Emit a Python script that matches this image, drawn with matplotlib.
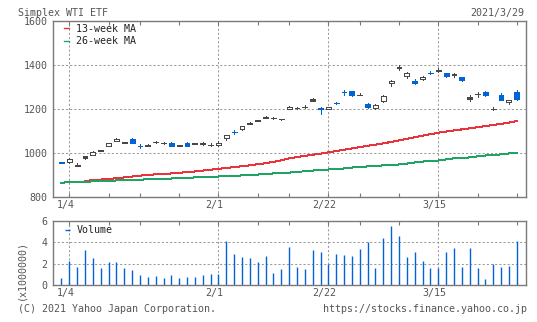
import matplotlib
matplotlib.use('Agg')
import matplotlib.pyplot as plt
from matplotlib.transforms import ScaledTranslation
import numpy as np
import pandas as pd

plt.rcParams['font.family'] = ['DejaVu Sans Mono']
plt.rcParams['font.size'] = 7.2

# ---------------- data ----------------
dates = ['2020-12-30',
         '2021-01-04', '2021-01-05', '2021-01-06', '2021-01-07', '2021-01-08',
         '2021-01-12', '2021-01-13', '2021-01-14', '2021-01-15',
         '2021-01-18', '2021-01-19', '2021-01-20', '2021-01-21', '2021-01-22',
         '2021-01-25', '2021-01-26', '2021-01-27', '2021-01-28', '2021-01-29',
         '2021-02-01', '2021-02-02', '2021-02-03', '2021-02-04', '2021-02-05',
         '2021-02-08', '2021-02-09', '2021-02-10', '2021-02-12',
         '2021-02-15', '2021-02-16', '2021-02-17', '2021-02-18', '2021-02-19',
         '2021-02-22', '2021-02-24', '2021-02-25', '2021-02-26',
         '2021-03-01', '2021-03-02', '2021-03-03', '2021-03-04', '2021-03-05',
         '2021-03-08', '2021-03-09', '2021-03-10', '2021-03-11', '2021-03-12',
         '2021-03-15', '2021-03-16', '2021-03-17', '2021-03-18', '2021-03-19',
         '2021-03-22', '2021-03-23', '2021-03-24', '2021-03-25', '2021-03-26',
         '2021-03-29']

opens  = [955, 958, 946, 985, 991, 1013, 1031, 1053, 1048, 1065,
          1033, 1038, 1051, 1046, 1046, 1035, 1047, 1046, 1043, 1037,
          1034, 1066, 1096, 1110, 1138, 1151, 1165, 1161, 1156, 1200,
          1206, 1211, 1244, 1204, 1200, 1229, 1279, 1283, 1266, 1224,
          1203, 1235, 1317, 1392, 1350, 1329, 1335, 1366, 1379, 1365,
          1360, 1347, 1253, 1269, 1279, 1202, 1264, 1230, 1277]
highs  = [960, 975, 953, 986, 1007, 1014, 1046, 1066, 1051, 1066,
          1040, 1042, 1054, 1048, 1048, 1037, 1048, 1047, 1049, 1043,
          1052, 1082, 1102, 1123, 1139, 1152, 1166, 1162, 1156, 1215,
          1208, 1216, 1251, 1210, 1211, 1234, 1286, 1284, 1273, 1229,
          1225, 1266, 1330, 1401, 1370, 1335, 1349, 1372, 1385, 1366,
          1365, 1348, 1265, 1279, 1280, 1208, 1271, 1243, 1287]
lows   = [952, 955, 941, 972, 990, 1008, 1030, 1052, 1043, 1043,
          1024, 1031, 1047, 1041, 1029, 1031, 1029, 1039, 1035, 1029,
          1032, 1060, 1087, 1106, 1130, 1143, 1157, 1153, 1149, 1199,
          1202, 1203, 1236, 1175, 1199, 1221, 1266, 1258, 1263, 1206,
          1202, 1234, 1307, 1380, 1342, 1312, 1334, 1358, 1368, 1347,
          1348, 1329, 1238, 1257, 1261, 1195, 1242, 1224, 1243]
closes = [956, 972, 942, 977, 1005, 1009, 1044, 1064, 1045, 1047,
          1031, 1033, 1049, 1043, 1031, 1032, 1031, 1040, 1041, 1035,
          1046, 1081, 1094, 1122, 1131, 1144, 1158, 1158, 1153, 1211,
          1204, 1209, 1237, 1202, 1210, 1227, 1277, 1264, 1264, 1210,
          1220, 1261, 1329, 1385, 1362, 1317, 1347, 1364, 1372, 1349,
          1353, 1330, 1244, 1267, 1262, 1200, 1243, 1242, 1244]
# candle style: h = hollow, d = dark filled, b = blue filled
styles = ['b', 'h', 'd', 'd', 'h', 'd', 'h', 'h', 'd', 'b',
          'b', 'd', 'd', 'd', 'b', 'd', 'b', 'd', 'd', 'd',
          'h', 'h', 'b', 'h', 'd', 'd', 'd', 'd', 'd', 'h',
          'd', 'd', 'd', 'b', 'h', 'b', 'b', 'b', 'd', 'b',
          'h', 'h', 'h', 'd', 'h', 'b', 'h', 'b', 'd', 'b',
          'd', 'b', 'd', 'd', 'b', 'd', 'b', 'h', 'b']

ma13 = [np.nan, np.nan, np.nan, 872, 875, 878, 881, 884, 888, 892,
        896, 899, 902, 904, 906, 909, 912, 915, 919, 923,
        927, 931, 935, 939, 943, 948, 953, 959, 966, 975,
        981, 986, 991, 996, 1002, 1008, 1014, 1020, 1026, 1032,
        1037, 1043, 1050, 1057, 1064, 1071, 1078, 1085, 1092, 1097,
        1102, 1107, 1112, 1117, 1122, 1127, 1132, 1138, 1145]
ma26 = [864, 866, 867, 868, 870, 871, 873, 874, 875, 876,
        878, 879, 880, 882, 883, 885, 886, 888, 889, 890,
        892, 894, 895, 897, 899, 901, 903, 906, 908, 910,
        913, 916, 919, 922, 924, 926, 929, 933, 935, 938,
        940, 943, 945, 947, 951, 956, 960, 963, 965, 970,
        975, 977, 979, 984, 988, 990, 993, 997, 1000]

volume = [0.63, 2.24, 1.67, 3.28, 2.52, 1.58, 2.15, 2.15, 1.58, 1.39,
          0.91, 0.73, 0.82, 0.63, 0.91, 0.63, 0.73, 0.73, 0.91, 1.01,
          1.01, 4.13, 2.90, 2.62, 2.52, 2.15, 2.71, 1.10, 1.48, 3.56,
          1.67, 1.48, 3.28, 3.09, 1.96, 2.90, 2.81, 2.71, 3.38, 4.04,
          1.58, 4.42, 5.55, 4.61, 2.62, 3.09, 2.24, 1.58, 1.58, 3.09,
          3.47, 1.67, 3.47, 1.58, 0.54, 1.96, 1.67, 1.77, 4.13]

label_dates = ['1/4', '2/1', '2/22', '3/15']
price_ticks = [800, 1000, 1200, 1400, 1600]
vol_ticks = [0, 2, 4, 6]

# ---------------- style ----------------
DARK = '#484848'
BLUE = '#0064d8'
RED = '#e8333c'
GREEN = '#1fa463'
TXT = '#555555'
FRAME = '#7a7a7a'
GRID = '#9a9a9a'
PX = 0.72  # one pixel in points at 100 dpi

W, H = 537, 322
fig = plt.figure(figsize=(W / 100, H / 100), dpi=100)
fig.patch.set_facecolor('white')

L_, R_ = 53.3, 525.7
ax = fig.add_axes([L_ / W, 1 - 196.7 / H, (R_ - L_) / W, (196.7 - 21.3) / H])
axv = fig.add_axes([L_ / W, 1 - 285.0 / H, (R_ - L_) / W, (285.0 - 221.0) / H])

dt = pd.to_datetime(dates)
n = len(dt)
x = np.arange(n)
short = [f'{d.month}/{d.day}' for d in dt]
iso = dt.isocalendar()
weekkey = (iso['year'].astype(int) * 100 + iso['week'].astype(int)).to_numpy()
week_ticks = [i for i in range(1, n) if weekkey[i] != weekkey[i - 1]]
label_pos = [short.index(s) for s in label_dates]

O = np.array(opens, float)
C = np.array(closes, float)
Hh = np.array(highs, float)
Ll = np.array(lows, float)
face_map = {'h': 'white', 'd': DARK, 'b': BLUE}
edge_map = {'h': DARK, 'd': DARK, 'b': BLUE}
faces = [face_map[s] for s in styles]
edges = [edge_map[s] for s in styles]
body_lo = np.minimum(O, C)
body_h = np.maximum(np.abs(C - O), 0.5)

ax.vlines(x, Ll, Hh, colors=edges, linewidth=PX, zorder=3, antialiased=False)
bars = ax.bar(x, body_h, bottom=body_lo, width=0.62, color=faces, edgecolor=edges,
              linewidth=PX, zorder=4, antialiased=False)
for b in bars:
    b.set_joinstyle('miter')

l13, = ax.plot(x, ma13, color=RED, lw=PX, zorder=2, antialiased=False, label='13-week MA')
l26, = ax.plot(x, ma26, color=GREEN, lw=PX, zorder=2, antialiased=False, label='26-week MA')

vl = axv.vlines(x, 0, volume, colors=BLUE, linewidth=1.0, zorder=3,
                antialiased=True, label='Volume')

xlim = (-1.04, 59.14)
for a in (ax, axv):
    a.set_xlim(*xlim)
    a.set_xticks(label_pos)
    a.set_xticks(week_ticks, minor=True)
    a.set_xticklabels(label_dates)
    a.tick_params(axis='x', which='both', direction='in', top=True, bottom=True,
                  length=3.0, width=0.8, color=FRAME, labelcolor=TXT, pad=2.5)
    a.tick_params(axis='y', which='both', length=0, labelcolor=TXT, pad=4)
    a.grid(True, which='major', linestyle=(0, (2, 2)), color=GRID, lw=0.75)
    a.set_axisbelow(True)
    for sp in a.spines.values():
        sp.set_color(FRAME)
        sp.set_linewidth(1.0)
        sp.set_zorder(6)

ax.set_ylim(800, 1600)
ax.set_yticks(price_ticks)
ax.set_yticklabels([str(v) for v in price_ticks])
axv.set_ylim(0, 6)
axv.set_yticks(vol_ticks)
axv.set_yticklabels([str(v) for v in vol_ticks])

off = ScaledTranslation(-4 / 100, 0, fig.dpi_scale_trans)
for a in (ax, axv):
    for lab in a.get_xticklabels():
        lab.set_transform(lab.get_transform() + off)

leg = ax.legend(handles=[l13, l26], loc='upper left', bbox_to_anchor=(0.022, 0.985),
                frameon=False, handlelength=0.5, handletextpad=0.7,
                labelspacing=0.25, borderpad=0, borderaxespad=0)
for t in leg.get_texts():
    t.set_color('#222222')
for h in leg.legend_handles:
    h.set_linewidth(1.0)
legv = axv.legend(handles=[vl], loc='upper left', bbox_to_anchor=(0.024, 0.93),
                  frameon=False, handlelength=0.5, handletextpad=0.7,
                  borderpad=0, borderaxespad=0)
for t in legv.get_texts():
    t.set_color('#222222')
for h in legv.legend_handles:
    h.set_linewidth(1.0)

fig.text(18.3 / W, 1 - 13.3 / H, 'Simplex WTI ETF', ha='left', va='center', color=TXT)
fig.text(524.5 / W, 1 - 13.3 / H, '2021/3/29', ha='right', va='center', color=TXT)
fig.text(18.0 / W, 1 - 308.5 / H, '(C) 2021 Yahoo Japan Corporation.', ha='left',
         va='center', color=TXT)
fig.text(526.5 / W, 1 - 308.5 / H, 'https://stocks.finance.yahoo.co.jp', ha='right',
         va='center', color=TXT)
fig.text(21.0 / W, 1 - 270.5 / H, '(x1000000)', rotation=90, ha='center', va='center',
         color=TXT)

fig.savefig('out.png', dpi=100, facecolor='white')
